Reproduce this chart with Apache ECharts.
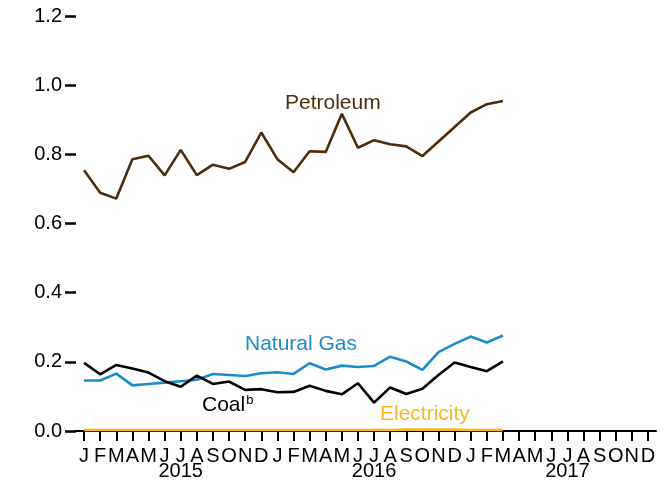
<!DOCTYPE html>
<html>
<head>
<meta charset="utf-8">
<script src="https://cdn.jsdelivr.net/npm/echarts@6/dist/echarts.min.js"></script>
<style>
  html, body { margin: 0; padding: 0; background: #ffffff; }
  #chart { width: 669px; height: 483px; }
</style>
</head>
<body>
<div id="chart"></div>
<script>
// Monthly categories, Jan 2015 – Dec 2017
const months = ['J','F','M','A','M','J','J','A','S','O','N','D',
                'J','F','M','A','M','J','J','A','S','O','N','D',
                'J','F','M','A','M','J','J','A','S','O','N','D'];
// Year labels sit under July of each year
const yearLabels = ['','','','','','','2015','','','','','',
                    '','','','','','','2016','','','','','',
                    '','','','','','','2017','','','','',''];
const yTicks = [0, 0.2, 0.4, 0.6, 0.8, 1.0, 1.2];

// Values, Jan 2015 – Mar 2017
const petroleum = [0.754, 0.689, 0.672, 0.786, 0.796, 0.739, 0.813, 0.740, 0.770, 0.758, 0.778, 0.863,
                   0.786, 0.748, 0.809, 0.807, 0.917, 0.819, 0.841, 0.829, 0.823, 0.795, 0.837, 0.879,
                   0.921, 0.945, 0.954];
const naturalGas = [0.146, 0.146, 0.166, 0.132, 0.136, 0.140, 0.144, 0.148, 0.165, 0.162, 0.159, 0.167,
                    0.170, 0.165, 0.196, 0.178, 0.189, 0.185, 0.188, 0.215, 0.201, 0.177, 0.228, 0.252,
                    0.273, 0.256, 0.276];
const coal = [0.197, 0.164, 0.191, 0.181, 0.169, 0.144, 0.128, 0.160, 0.136, 0.143, 0.119, 0.121,
              0.112, 0.113, 0.131, 0.116, 0.106, 0.138, 0.082, 0.126, 0.107, 0.122, 0.162, 0.198,
              0.185, 0.173, 0.201];
const electricity = [0.003, 0.003, 0.003, 0.003, 0.003, 0.003, 0.003, 0.003, 0.003, 0.003, 0.003, 0.003,
                     0.003, 0.003, 0.003, 0.003, 0.003, 0.003, 0.003, 0.003, 0.004, 0.004, 0.004, 0.004,
                     0.003, 0.003, 0.003];

const FONT = '"Liberation Sans", Arial, Helvetica, sans-serif';
const colors = {
  petroleum: '#4b2d0e',
  gas: '#1b8cc9',
  coal: '#000000',
  electricity: '#f6b824'
};

function lineSeries(name, data, color) {
  return {
    name: name, type: 'line', data: data,
    symbol: 'none', smooth: false,
    lineStyle: { color: color, width: 2.6 },
    itemStyle: { color: color },
    z: 3
  };
}

const chart = echarts.init(document.getElementById('chart'), null, { renderer: 'canvas' });

chart.setOption({
  animation: false,
  backgroundColor: '#ffffff',
  grid: { left: 76, right: 13, top: 16, bottom: 52, containLabel: false },
  xAxis: [
    {
      type: 'category', data: months, boundaryGap: true,
      axisLine: { show: true, lineStyle: { color: '#000', width: 2 } },
      axisTick: { show: true, alignWithLabel: true, length: 10, lineStyle: { color: '#000', width: 2 } },
      axisLabel: { interval: 0, color: '#000', fontFamily: FONT, fontSize: 20, margin: 15 },
      splitLine: { show: false }
    },
    {
      type: 'category', data: yearLabels, boundaryGap: true, position: 'bottom', offset: 15,
      axisLine: { show: false }, axisTick: { show: false },
      axisLabel: { interval: 0, color: '#000', fontFamily: FONT, fontSize: 20, margin: 15 },
      splitLine: { show: false }
    }
  ],
  yAxis: {
    type: 'value', min: 0, max: 1.2, interval: 0.2,
    axisLine: { show: false },
    axisTick: { show: true, inside: false, length: 11, lineStyle: { color: '#000', width: 2.5 } },
    axisLabel: {
      color: '#000', fontFamily: FONT, fontSize: 20, margin: 14,
      formatter: v => yTicks.includes(+v.toFixed(1)) ? v.toFixed(1) : ''
    },
    splitLine: { show: false }
  },
  series: [
    lineSeries('Electricity', electricity, colors.electricity),
    lineSeries('Natural Gas', naturalGas, colors.gas),
    lineSeries('Coal', coal, colors.coal),
    lineSeries('Petroleum', petroleum, colors.petroleum)
  ],
  graphic: [
    { type: 'text', left: 285, top: 93,
      style: { text: 'Petroleum', fill: colors.petroleum, font: '21px ' + FONT } },
    { type: 'text', left: 245, top: 334,
      style: { text: 'Natural Gas', fill: colors.gas, font: '21px ' + FONT } },
    { type: 'text', left: 202, top: 394,
      style: {
        text: 'Coal{sup|b}', fill: colors.coal, font: '21px ' + FONT,
        rich: { sup: { fontSize: 13, fontFamily: FONT, fill: colors.coal, verticalAlign: 'top', padding: [0, 0, 10, 1] } }
      } },
    { type: 'text', left: 380, top: 404,
      style: { text: 'Electricity', fill: colors.electricity, font: '21px ' + FONT } }
  ]
});
</script>
</body>
</html>
